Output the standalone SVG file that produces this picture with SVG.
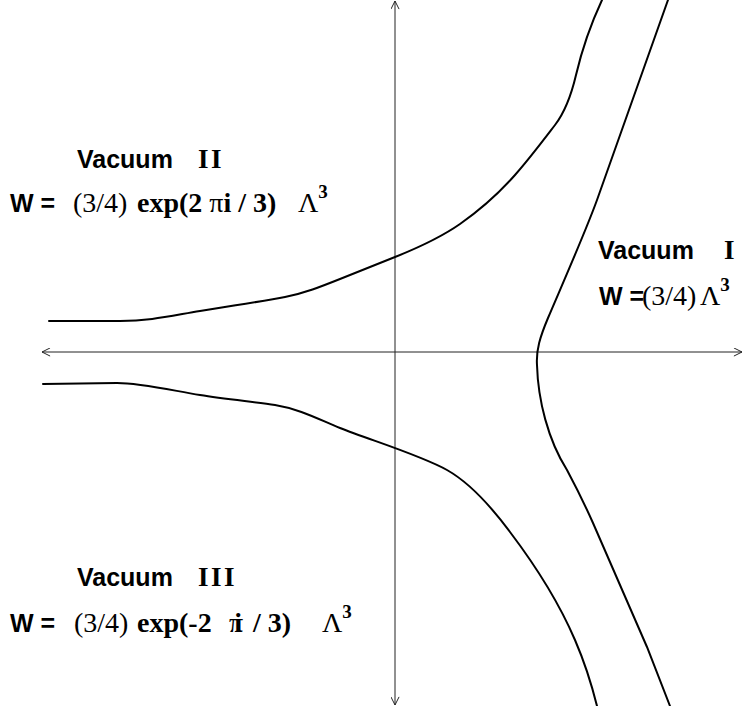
<svg xmlns="http://www.w3.org/2000/svg" width="745" height="706" viewBox="0 0 745 706">
<style>
.ax{stroke:#222;stroke-width:1;fill:none}
.cv{stroke:#000;stroke-width:2;fill:none;stroke-linecap:round}
.sa{font-family:"Liberation Sans",Arial,sans-serif;font-weight:bold;font-size:25px;fill:#000}
.rn{font-family:"Liberation Serif","Times New Roman",serif;font-weight:bold;font-size:27px;letter-spacing:2.5px;fill:#000}
.tr{font-family:"Liberation Serif","Times New Roman",serif;font-size:28px;fill:#000}
.tb{font-family:"Liberation Serif","Times New Roman",serif;font-weight:bold;font-size:28px;fill:#000}
.sup{font-family:"Liberation Serif","Times New Roman",serif;font-weight:bold;font-size:19px;fill:#000}
</style>
<defs>
<marker id="ah" viewBox="0 0 10 10" refX="10" refY="5" markerWidth="9" markerHeight="9" markerUnits="userSpaceOnUse" orient="auto-start-reverse">
<path d="M1,0.5 L10,5 L1,9.5" fill="none" stroke="#222" stroke-width="1.1"/>
</marker>
</defs>
<g id="connectors">
<line class="ax" x1="395" y1="705" x2="395" y2="1" marker-start="url(#ah)" marker-end="url(#ah)"/>
<line class="ax" x1="42" y1="352" x2="742" y2="352" marker-start="url(#ah)" marker-end="url(#ah)"/>
<path id="curve-upper" class="cv" d="M49,321 L120,321 C150,321 170,316 200,311 S265,301 285,297 S320,287 340,279 S375,265 395,257 S440,238 460,224 S500,192 515,175 S545,138 555,125 S572,92 576,75 S588,30 602,0"/>
<path id="curve-right" class="cv" d="M668,0 L597,200 C585,233 562,285 548,318 C540,337 536,350 537,365 C538,400 548,440 567,470 C575,485 585,505 593,523 L647,647 L670,706"/>
<path id="curve-lower" class="cv" d="M43,384 L117,383 C140,383 170,390 200,395 C225,399 255,402 275,405 C300,409 320,420 340,428 C370,440 420,455 447,470 C470,483 490,505 510,532 C535,565 560,605 575,640 C588,670 593,690 597,706"/>
</g>
<g id="vacuum-2">
<text class="sa" x="77" y="168">Vacuum</text>
<text class="rn" x="198" y="168">II</text>
<text y="212"><tspan class="sa" x="10">W =</tspan><tspan class="tr" x="73">(3/4)</tspan><tspan class="tb" x="137">exp(2 </tspan><tspan class="tr">π</tspan><tspan class="tb">i / 3)</tspan><tspan class="tr" x="298">Λ</tspan><tspan class="sup" dy="-14">3</tspan></text>
</g>
<g id="vacuum-1">
<text class="sa" x="598" y="259">Vacuum</text>
<text class="rn" x="724" y="259">I</text>
<text y="305"><tspan class="sa" x="599">W =</tspan><tspan class="tr" x="642" font-size="24">(3/4)</tspan><tspan class="tr" x="700" font-size="26">Λ</tspan><tspan class="sup" dy="-14">3</tspan></text>
</g>
<g id="vacuum-3">
<text class="sa" x="77" y="586">Vacuum</text>
<text class="rn" x="198" y="586">III</text>
<text y="632"><tspan class="sa" x="10">W =</tspan><tspan class="tr" x="74">(3/4)</tspan><tspan class="tb" x="137">exp(-2</tspan><tspan class="tr" x="229">π</tspan><tspan class="tb" dx="-9">i</tspan><tspan class="tb" x="253">/ 3)</tspan><tspan class="tr" x="322">Λ</tspan><tspan class="sup" dy="-14">3</tspan></text>
</g>
</svg>
